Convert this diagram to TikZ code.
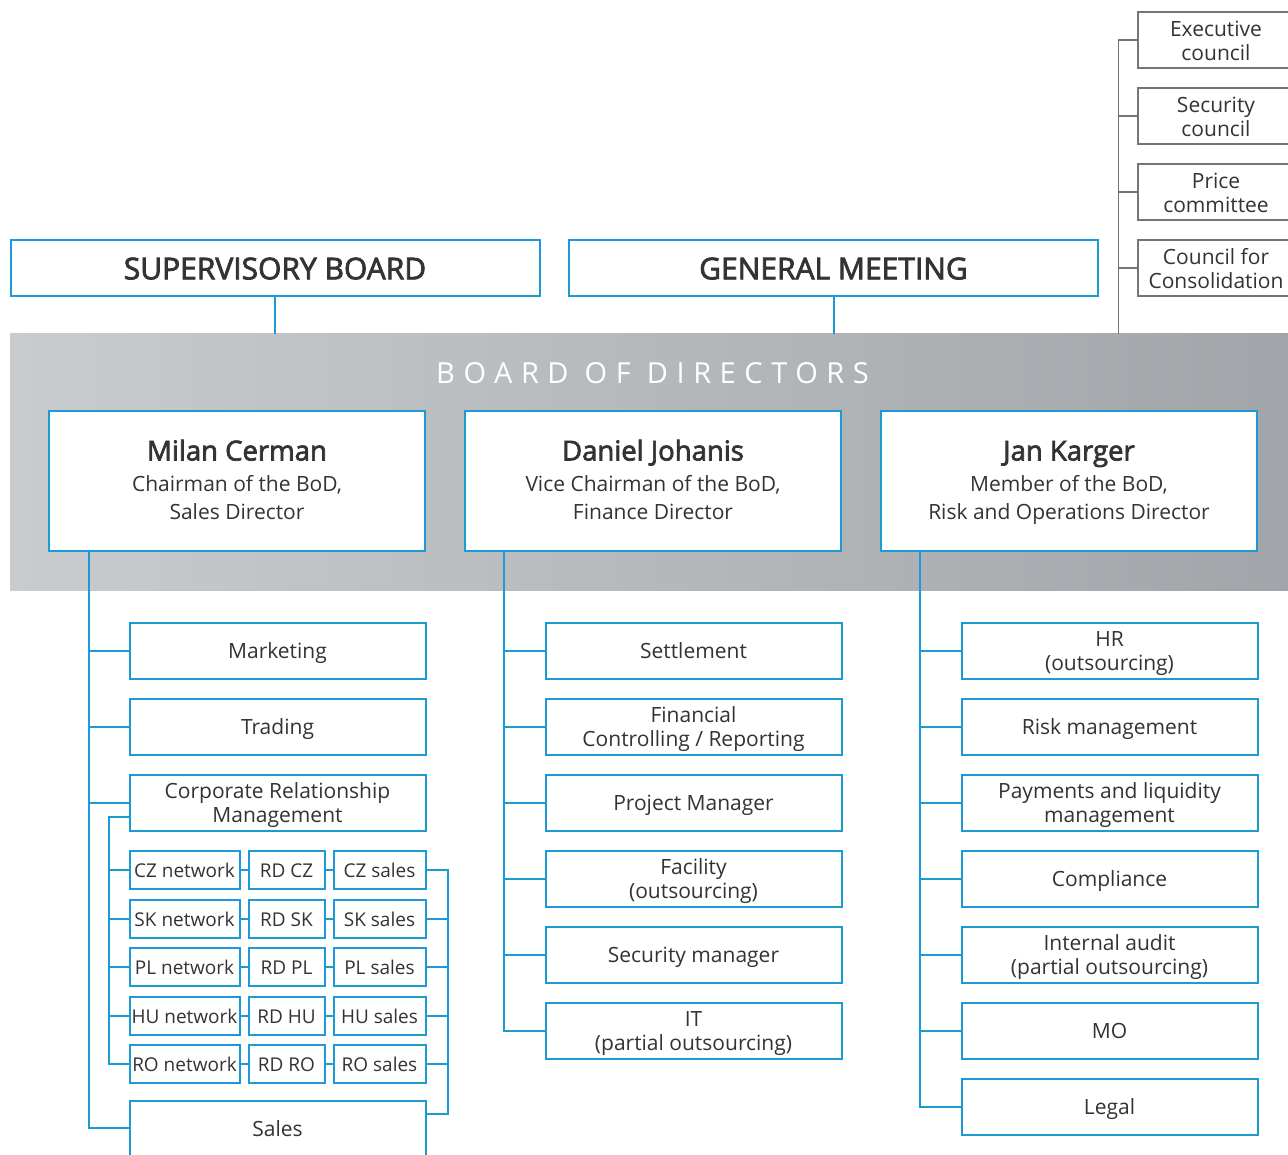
\documentclass[tikz,border=0pt]{standalone}
\usepackage{fontspec}
\setmainfont{Open Sans}
\newfontfamily\semib[FakeBold=2.5]{Open Sans}
\usetikzlibrary{calc}
\definecolor{bblue}{RGB}{28,154,214}
\definecolor{txtc}{RGB}{51,51,51}
\definecolor{cgray}{RGB}{110,118,122}
\definecolor{bandL}{RGB}{201,204,206}
\definecolor{bandR}{RGB}{161,165,169}
\newcommand\bxstrut{\rule[-0.16em]{0pt}{1.12em}}
\newcommand\bxstrutB{\rule[-0.24em]{0pt}{1.14em}}
\newcommand\tst{\rule{0pt}{1.0em}}
\newcommand\cst{\rule{0pt}{0.86em}}
\begin{document}
\begin{tikzpicture}[x=1pt,y=-1pt,
  box/.style={draw=bblue, line width=2pt, fill=white, text=txtc, align=center, inner sep=0pt,
    minimum width=296, minimum height=56, font=\fontsize{21}{24.5}\selectfont,
    execute at begin node=\bxstrut, execute at end node=\bxstrut},
  small/.style={box, minimum height=38, font=\fontsize{19}{22}\selectfont},
  topbox/.style={box, minimum width=529, font=\semib\fontsize{30}{30}\selectfont,
    execute at begin node=\bxstrutB, execute at end node=\bxstrutB},
  dirbox/.style={draw=bblue, line width=2pt, fill=white, minimum width=376, minimum height=140},
  dname/.style={text=txtc, inner sep=0pt, anchor=base, font=\semib\fontsize{27.5}{30}\selectfont},
  dsub/.style={text=txtc, inner sep=0pt, anchor=base, font=\fontsize{21}{24}\selectfont},
  council/.style={draw=cgray, line width=1.5pt, fill=white, text=txtc, align=center, inner sep=0pt,
    minimum width=156, minimum height=56, font=\fontsize{21}{24}\selectfont},
  conn/.style={draw=bblue, line width=2pt},
  gconn/.style={draw=cgray, line width=1.5pt},
  band/.style={left color=bandL, right color=bandR, draw=none, minimum width=1290, minimum height=256, inner sep=0pt}
]
\useasboundingbox (0,0) rectangle (1288,1155);
\clip (0,0) rectangle (1288,1155);

% board band
\node[band] (band) at (655,462) {};
\node[anchor=west, inner sep=0pt, text=white,
  font=\fontsize{29}{30}\selectfont\addfontfeature{LetterSpace=29.5}] (bodt) at (436,373) {BOARD OF DIRECTORS};

% top boxes
\node[topbox] (sb) at (275,268.5) {SUPERVISORY BOARD};
\node[topbox] (gm) at (833.5,268.5) {GENERAL MEETING};
\draw[conn] (sb.south) -- (sb.south |- band.north);
\draw[conn] (gm.south) -- (gm.south |- band.north);

% councils
\node[council] (c1) at (1216,40) {\cst Executive\\council};
\node[council] (c2) at (1216,116) {\cst Security\\council};
\node[council] (c3) at (1216,192) {\cst Price\\committee};
\node[council] (c4) at (1216,268) {\cst Council for\\Consolidation};
\coordinate (cv) at ($(c1.west)+(-19,0)$);
\draw[gconn] (cv |- band.north) -- (cv) -- (c1.west);
\foreach \c in {c2,c3,c4} \draw[gconn] (cv |- \c.west) -- (\c.west);

% directors
\node[dirbox] (mc) at (237,481) {};
\node[dname] (mcn) at (237,460.5) {Milan Cerman};
\node[dsub] (mcs1) at (237,491.5) {Chairman of the BoD,};
\node[dsub] (mcs2) at (237,519.5) {Sales Director};
\node[dirbox] (dj) at (653,481) {};
\node[dname] (djn) at (653,460.5) {Daniel Johanis};
\node[dsub] (djs1) at (653,491.5) {Vice Chairman of the BoD,};
\node[dsub] (djs2) at (653,519.5) {Finance Director};
\node[dirbox] (jk) at (1069,481) {};
\node[dname] (jkn) at (1069,460.5) {Jan Karger};
\node[dsub] (jks1) at (1069,491.5) {Member of the BoD,};
\node[dsub] (jks2) at (1069,519.5) {Risk and Operations Director};

% Milan column
\node[box] (mk) at (277.5,650.5) {Marketing};
\node[box] (tr) at (277.5,726.5) {Trading};
\node[box] (crm) at (277.5,802.5) {\tst Corporate Relationship\\Management};
\node[box, minimum height=74] (sa) at (277.5,1138) {};
\node[text=txtc, inner sep=0pt, anchor=base, font=\fontsize{21}{24.5}\selectfont] (sat) at (277.5,1136.5) {Sales};

\foreach \i/\cc/\y in {1/CZ/870,2/SK/918.5,3/PL/967,4/HU/1015.5,5/RO/1064}{
  \node[small, minimum width=110] (n\i) at (184.5,\y) {\cc{} network};
  \node[small, minimum width=76] (r\i) at (286.5,\y) {RD \cc};
  \node[small, minimum width=92] (s\i) at (379.5,\y) {\cc{} sales};
  \draw[conn] (n\i.east) -- (r\i.west);
  \draw[conn] (r\i.east) -- (s\i.west);
}

\coordinate (mcl) at ($(mc.south west)+(41,0)$);
\coordinate (saL) at ($(sa.north west)+(0,28)$);
\draw[conn] (mcl) |- (saL);
\foreach \b in {mk,tr,crm} \draw[conn] (mcl |- \b.west) -- (\b.west);

\coordinate (cs) at ($(crm.west)+(0,14.5)$);
\coordinate (sv) at ($(cs)+(-20,0)$);
\draw[conn] (cs) -- (sv) |- (n5.west);
\foreach \i in {1,2,3,4} \draw[conn] (sv |- n\i.west) -- (n\i.west);

\coordinate (rv) at ($(s1.east)+(21,0)$);
\coordinate (saR) at ($(sa.north east)+(0,14)$);
\draw[conn] (s1.east) -- (rv) |- (saR);
\foreach \i in {2,3,4,5} \draw[conn] (s\i.east) -- (rv |- s\i.east);

% Daniel column
\node[box] (st) at (693.5,650.5) {Settlement};
\node[box] (fc) at (693.5,726.5) {\tst Financial\\Controlling / Reporting};
\node[box] (pm) at (693.5,802.5) {Project Manager};
\node[box] (fa) at (693.5,878.5) {\tst Facility\\(outsourcing)};
\node[box] (sm) at (693.5,954.5) {Security manager};
\node[box] (it) at (693.5,1030.5) {\tst IT\\(partial outsourcing)};
\coordinate (djl) at ($(dj.south west)+(40,0)$);
\draw[conn] (djl) |- (it.west);
\foreach \b in {st,fc,pm,fa,sm} \draw[conn] (djl |- \b.west) -- (\b.west);

% Jan column
\node[box] (hr) at (1109.5,650.5) {\tst HR\\(outsourcing)};
\node[box] (rm) at (1109.5,726.5) {Risk management};
\node[box] (pl) at (1109.5,802.5) {\tst Payments and liquidity\\management};
\node[box] (co) at (1109.5,878.5) {Compliance};
\node[box] (ia) at (1109.5,954.5) {\tst Internal audit\\(partial outsourcing)};
\node[box] (mo) at (1109.5,1030.5) {MO};
\node[box] (lg) at (1109.5,1106.5) {Legal};
\coordinate (jkl) at ($(jk.south west)+(40,0)$);
\draw[conn] (jkl) |- (lg.west);
\foreach \b in {hr,rm,pl,co,ia,mo} \draw[conn] (jkl |- \b.west) -- (\b.west);
\end{tikzpicture}
\end{document}
